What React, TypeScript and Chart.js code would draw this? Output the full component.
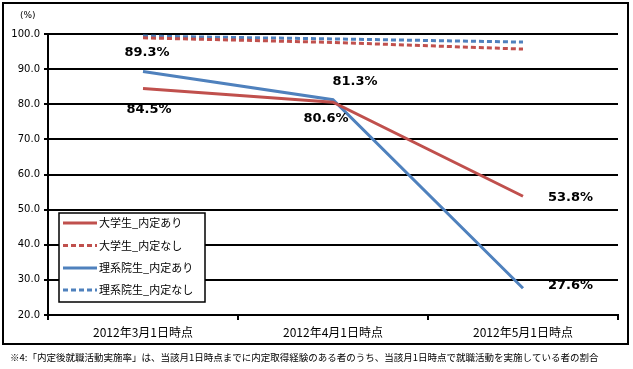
import React, { useEffect, useRef } from "react";
import { Chart, registerables } from "chart.js";

Chart.register(...registerables);

const categories = ["2012年3月1日時点", "2012年4月1日時点", "2012年5月1日時点"];
const univWithOffer = [84.5, 80.6, 53.8];
const univNoOffer = [98.9, 97.6, 95.7];
const gradWithOffer = [89.3, 81.3, 27.6];
const gradNoOffer = [99.4, 98.6, 97.7];
const seriesNames = ["大学生_内定あり", "大学生_内定なし", "理系院生_内定あり", "理系院生_内定なし"];
const yTicks = [20, 30, 40, 50, 60, 70, 80, 90, 100];
const footnote = "※4:「内定後就職活動実施率」は、当該月1日時点までに内定取得経験のある者のうち、当該月1日時点で就職活動を実施している者の割合";
const unitLabel = "(%)";

const RED = "#C0504D";
const BLUE = "#4F81BD";
const JP = "'Noto Sans CJK JP', 'DejaVu Sans', sans-serif";
const LAT = "'DejaVu Sans', Verdana, sans-serif";

const labelSpecs: { ds: number; pt: number; dx: number; dy: number; align: CanvasTextAlign }[] = [
  { ds: 2, pt: 0, dx: 4, dy: -19, align: "center" },
  { ds: 0, pt: 0, dx: 6, dy: 21, align: "center" },
  { ds: 2, pt: 1, dx: 22, dy: -18, align: "center" },
  { ds: 0, pt: 1, dx: -7, dy: 16, align: "center" },
  { ds: 0, pt: 2, dx: 25, dy: 1, align: "left" },
  { ds: 2, pt: 2, dx: 25, dy: -3, align: "left" },
];

export default function App() {
  const ref = useRef<HTMLCanvasElement | null>(null);
  useEffect(() => {
    if (!ref.current) return;
    const decor = {
      id: "decor",
      afterDatasetsDraw(chart: any) {
        const ctx = chart.ctx;
        ctx.save();
        ctx.fillStyle = "#000";
        ctx.font = `bold 13px ${LAT}`;
        ctx.textBaseline = "middle";
        for (const s of labelSpecs) {
          const el = chart.getDatasetMeta(s.ds).data[s.pt];
          const v = chart.data.datasets[s.ds].data[s.pt] as number;
          ctx.textAlign = s.align;
          ctx.fillText(v.toFixed(1) + "%", el.x + s.dx, el.y + s.dy);
        }
        ctx.restore();
      },
      afterDraw(chart: any) {
        const ctx = chart.ctx;
        ctx.save();
        ctx.strokeStyle = "#000";
        ctx.lineWidth = 2;
        ctx.strokeRect(3, 3, 625, 341);
        ctx.fillStyle = "#000";
        ctx.font = `9px ${LAT}`;
        ctx.textAlign = "left";
        ctx.textBaseline = "middle";
        ctx.fillText(unitLabel, 20, 16);
        const lx = 59, ly = 213, lw = 146, lh = 89;
        ctx.fillStyle = "#fff";
        ctx.fillRect(lx, ly, lw, lh);
        ctx.lineWidth = 1.5;
        ctx.strokeStyle = "#000";
        ctx.strokeRect(lx, ly, lw, lh);
        const rows = [223, 245.5, 268, 290];
        chart.data.datasets.forEach((ds: any, i: number) => {
          const y = rows[i];
          ctx.beginPath();
          ctx.strokeStyle = ds.borderColor;
          ctx.lineWidth = 3;
          ctx.setLineDash(ds.borderDash || []);
          ctx.moveTo(63, y);
          ctx.lineTo(97, y);
          ctx.stroke();
          ctx.setLineDash([]);
          ctx.fillStyle = "#000";
          ctx.font = `11px ${JP}`;
          ctx.textAlign = "left";
          ctx.fillText(ds.label, 99, y);
        });
        ctx.font = `9.5px ${JP}`;
        ctx.fillStyle = "#000";
        ctx.textAlign = "left";
        ctx.fillText(footnote, 10, 357, 596);
        ctx.restore();
      },
    };
    const chart = new Chart(ref.current, {
      type: "line",
      data: {
        labels: categories,
        datasets: [
          { label: seriesNames[0], data: univWithOffer, borderColor: RED, backgroundColor: RED, borderWidth: 3, pointRadius: 0 },
          { label: seriesNames[1], data: univNoOffer, borderColor: RED, backgroundColor: RED, borderWidth: 3, borderDash: [5, 3], pointRadius: 0 },
          { label: seriesNames[2], data: gradWithOffer, borderColor: BLUE, backgroundColor: BLUE, borderWidth: 3, pointRadius: 0 },
          { label: seriesNames[3], data: gradNoOffer, borderColor: BLUE, backgroundColor: BLUE, borderWidth: 3, borderDash: [5, 3], pointRadius: 0 },
        ],
      },
      options: {
        animation: false,
        responsive: false,
        maintainAspectRatio: false,
        layout: { padding: { left: 0, right: 15, top: 34, bottom: 24 } },
        plugins: { legend: { display: false }, tooltip: { enabled: false } },
        scales: {
          x: {
            offset: true,
            grid: { offset: true, drawOnChartArea: false, color: "#000", lineWidth: 2, tickLength: 5 },
            border: { color: "#000", width: 2 },
            ticks: { color: "#000", font: { family: JP, size: 12 }, padding: 5, maxRotation: 0 },
            afterFit(s: any) { s.height = 30; },
          },
          y: {
            min: 20,
            max: 100,
            afterBuildTicks(s: any) { s.ticks = yTicks.map((v) => ({ value: v })); },
            grid: { color: "#000", lineWidth: 2, tickLength: 4 },
            border: { color: "#000", width: 2 },
            ticks: { color: "#000", font: { family: LAT, size: 10 }, padding: 4, callback: (v: any) => Number(v).toFixed(1) },
            afterFit(s: any) { s.width = 48; },
          },
        },
      },
      plugins: [decor],
    });
    return () => chart.destroy();
  }, []);
  return (
    <div style={{ position: "absolute", left: 0, top: 0, width: 633, height: 369, background: "#fff" }}>
      <canvas ref={ref} width={633} height={369} style={{ width: 633, height: 369 }} />
    </div>
  );
}
